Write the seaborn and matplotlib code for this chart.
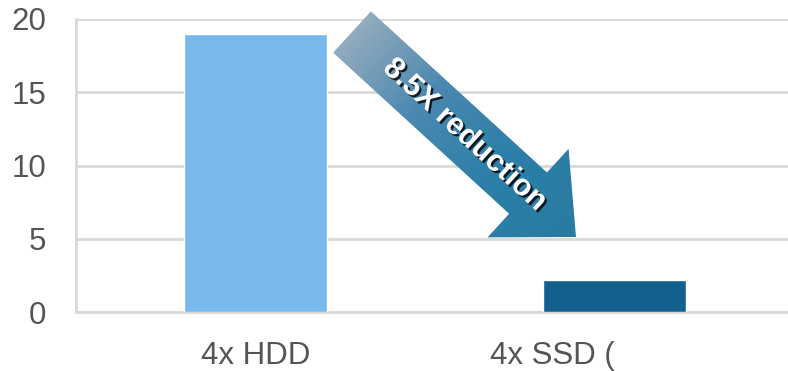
import numpy as np
import pandas as pd
import seaborn as sns
import matplotlib
matplotlib.use("Agg")
import matplotlib.pyplot as plt
import matplotlib.patheffects as pe
from matplotlib.patches import Polygon

# data
categories = ["4x HDD", "4x SSD ("]
times = [19.0, 2.2]
bar_colors = ["#78b8ec", "#13608f"]
y_ticks = [0, 5, 10, 15, 20]
arrow_label = "8.5X reduction"

sns.set_style("white")
plt.rcParams['font.family'] = ['Liberation Sans', 'DejaVu Sans']

W, H = 788, 371
fig = plt.figure(figsize=(W / 100, H / 100), dpi=100)
ax = fig.add_axes([76 / W, (H - 312) / H, 718 / W, 293 / H])

df = pd.DataFrame({"cfg": categories, "t": times})
sns.barplot(data=df, x="cfg", y="t", hue="cfg", palette=bar_colors,
            width=0.4, legend=False, ax=ax, zorder=3, saturation=1)

grid_c = "#d9d9d9"
txt_c = "#555555"
ax.set_ylim(0, 20)
ax.set_xlim(-0.5, 1.5)
ax.set_yticks(y_ticks)
ax.yaxis.grid(True, color=grid_c, linewidth=2)
ax.set_axisbelow(True)
for s in ["top", "right"]:
    ax.spines[s].set_visible(False)
for s in ["left", "bottom"]:
    ax.spines[s].set_color(grid_c)
    ax.spines[s].set_linewidth(2)
ax.tick_params(axis="y", length=9.5, width=2, color=grid_c, labelsize=22.5,
               labelcolor=txt_c, pad=12)
ax.tick_params(axis="x", length=0, labelsize=22.5, labelcolor=txt_c, pad=21)
ax.set_xticks([0.5], minor=True)
ax.tick_params(axis="x", which="minor", length=6, width=2, color=grid_c)
ax.set_xlabel("")
ax.set_ylabel("")
# the second label is cut off in the original, so it ends at its tick
ax.get_xticklabels()[1].set_ha("right")

# gradient arrow drawn on an overlay in pixel coordinates
ov = fig.add_axes([0, 0, 1, 1])
ov.set_xlim(0, W)
ov.set_ylim(H, 0)
ov.axis("off")
ov.patch.set_alpha(0)

S = np.array([352.0, 32.0])
T = np.array([576.0, 237.0])
u = (T - S) / np.linalg.norm(T - S)
n = np.array([-u[1], u[0]])
hw, headw, headl = 28, 60, 65
B = T - u * headl
pts = [S + n * hw, B + n * hw, B + n * headw, T, B - n * headw, B - n * hw, S - n * hw]
poly = Polygon(pts, closed=True, facecolor="none", edgecolor="none")
ov.add_patch(poly)

gx, gy = np.meshgrid(np.linspace(0, W, 400), np.linspace(0, H, 200))
proj = ((gx - S[0]) * u[0] + (gy - S[1]) * u[1]) / np.linalg.norm(T - S)
cmap = matplotlib.colors.LinearSegmentedColormap.from_list(
    "arr", ["#93abbd", "#4a88b0", "#2b7fa8", "#2a7ba0"])
im = ov.imshow(np.clip(proj, 0, 1), cmap=cmap, extent=(0, W, H, 0),
               aspect="auto", zorder=4)
im.set_clip_path(poly)

ang = -np.degrees(np.arctan2(u[1], u[0]))
ov.text(465, 135, arrow_label, rotation=ang, ha="center", va="center",
        rotation_mode="anchor", fontsize=22, fontweight="bold", color="white",
        zorder=5,
        path_effects=[pe.withSimplePatchShadow(offset=(1.5, -1.5), alpha=0.8,
                                               shadow_rgbFace="#000000")])

fig.savefig("out.png", dpi=100)
